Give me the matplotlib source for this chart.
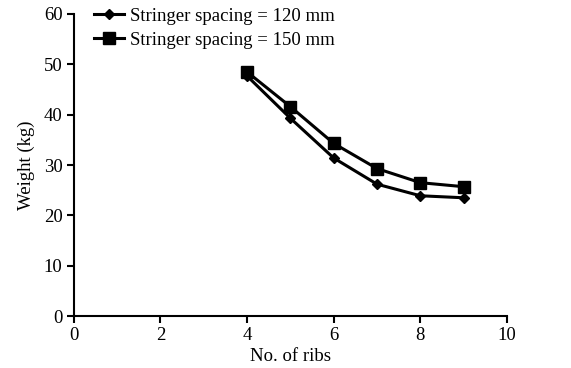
import matplotlib
matplotlib.use("Agg")
import matplotlib.pyplot as plt

# --- Données ---
ribs = [4, 5, 6, 7, 8, 9]
weight_120 = [47.7, 39.3, 31.4, 26.2, 23.9, 23.5]
weight_150 = [48.5, 41.6, 34.3, 29.3, 26.5, 25.7]

plt.rcParams["font.family"] = ["Liberation Serif", "DejaVu Serif"]
plt.rcParams["font.size"] = 13.5

fig = plt.figure(figsize=(5.71, 3.68), dpi=100)
ax = fig.add_axes([0.129, 0.141, 0.759, 0.821])

ax.plot(ribs, weight_120, color="black", linewidth=2.2, marker="D",
        markersize=5, label="Stringer spacing = 120 mm")
ax.plot(ribs, weight_150, color="black", linewidth=2.2, marker="s",
        markersize=8, label="Stringer spacing = 150 mm")

ax.set_xlim(0, 10)
ax.set_ylim(0, 60)
ax.set_xticks(range(0, 11, 2))
ax.set_yticks(range(0, 61, 10))
ax.set_xlabel("No. of ribs", labelpad=3)
ax.set_ylabel("Weight (kg)", labelpad=6)

for side in ["top", "right"]:
    ax.spines[side].set_visible(False)
for side in ["left", "bottom"]:
    ax.spines[side].set_linewidth(1.5)
ax.tick_params(direction="out", width=1.5, length=5, pad=3)

ax.legend(loc="upper left", bbox_to_anchor=(0.03, 1.045), frameon=False,
          handlelength=1.6, handletextpad=0.3, labelspacing=0.35,
          borderaxespad=0)

plt.savefig("out.png", dpi=100)
